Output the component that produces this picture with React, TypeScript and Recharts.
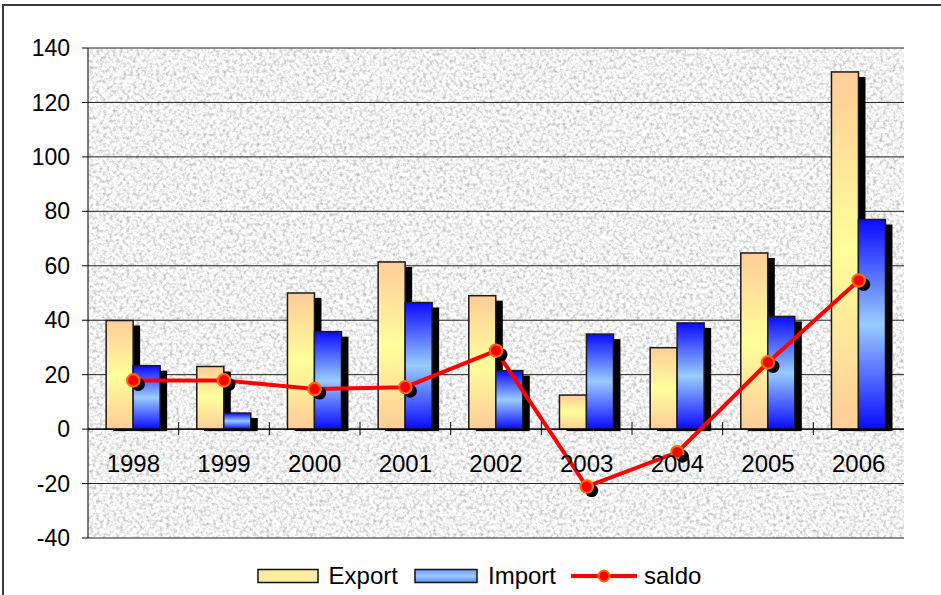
import React from 'react';
import {
  ComposedChart, Bar, Line, XAxis, YAxis, CartesianGrid, ReferenceLine, Legend,
} from 'recharts';

const years = ['1998', '1999', '2000', '2001', '2002', '2003', '2004', '2005', '2006'];
const exportVals = [39.9, 23, 50, 61.4, 49, 12.5, 29.9, 64.7, 131.2];
const importVals = [23.3, 5.9, 35.8, 46.5, 21.5, 34.9, 39, 41.4, 77];
const saldoVals = [17.9, 17.9, 14.7, 15.4, 28.8, -21.1, -8.5, 24.5, 54.6];
const yTicks = [-40, -20, 0, 20, 40, 60, 80, 100, 120, 140];

const data = years.map((y, i) => ({
  year: y,
  Export: exportVals[i],
  Import: importVals[i],
  saldo: saldoVals[i],
}));

const W = 941;
const H = 595;
const MARGIN = { top: 48, right: 37, left: 0, bottom: 4 };
const Y_AXIS_W = 88;
const X_AXIS_H = 23;
const LEGEND_H = 30;
const Y_MIN = -40;
const Y_MAX = 140;
const PLOT_W = W - MARGIN.left - MARGIN.right - Y_AXIS_W;
const PLOT_H = H - MARGIN.top - MARGIN.bottom - LEGEND_H - X_AXIS_H;
const ZERO_Y = MARGIN.top + (PLOT_H * Y_MAX) / (Y_MAX - Y_MIN);
const BAND = PLOT_W / years.length;

const makeShape = (grad: string) => (p: any) => {
  const { x, y, width, height } = p;
  if (width == null || height == null) return null;
  return (
    <g>
      <rect x={x + 7} y={y + 5} width={width} height={Math.max(0, height - 3)} fill="#000" />
      <rect x={x} y={y} width={width} height={height} fill={`url(#${grad})`} stroke="#1a1a1a" strokeWidth={1.5} />
    </g>
  );
};

const ExportShape = makeShape('gradExport');
const ImportShape = makeShape('gradImport');

const SaldoDot = (p: any) => {
  const { cx, cy, index } = p;
  if (cx == null || cy == null) return null;
  return (
    <g key={`dot-${index}`}>
      <circle cx={cx + 5} cy={cy + 4} r={6.5} fill="#000" />
      <circle cx={cx} cy={cy} r={6.2} fill="#FF0000" stroke="#FF6A00" strokeWidth={2.2} />
    </g>
  );
};

const XTick = (p: any) => {
  const { x, payload, index } = p;
  return (
    <g>
      {index > 0 && (
        <line x1={x - BAND / 2} x2={x - BAND / 2} y1={ZERO_Y - 7} y2={ZERO_Y + 6} stroke="#000" strokeWidth={1} />
      )}
      <text x={x} y={ZERO_Y + 43} textAnchor="middle" fontSize={24} fill="#000">
        {payload.value}
      </text>
    </g>
  );
};

const LegendContent = () => (
  <div style={{ height: LEGEND_H, display: 'flex', alignItems: 'center', justifyContent: 'center', marginLeft: 54, fontSize: 24, color: '#000', lineHeight: '30px' }}>
    <svg width={62} height={16} style={{ marginRight: 10 }}>
      <rect x={1} y={1.5} width={60} height={13} fill="#FFEC9C" stroke="#111" strokeWidth={1.5} />
    </svg>
    <span style={{ marginRight: 16 }}>Export</span>
    <svg width={64} height={16} style={{ marginRight: 10 }}>
      <defs>
        <linearGradient id="legImp" x1="0" y1="0" x2="0" y2="1">
          <stop offset="0%" stopColor="#6F9BFF" />
          <stop offset="50%" stopColor="#9CC8FF" />
          <stop offset="100%" stopColor="#5F8BFF" />
        </linearGradient>
      </defs>
      <rect x={1} y={1.5} width={62} height={13} fill="url(#legImp)" stroke="#111" strokeWidth={1.5} />
    </svg>
    <span style={{ marginRight: 15 }}>Import</span>
    <svg width={66} height={16} style={{ marginRight: 7 }}>
      <line x1={0} x2={66} y1={8} y2={8} stroke="#FF0000" strokeWidth={4} />
      <circle cx={33} cy={8} r={5.5} fill="#FF0000" stroke="#FF6A00" strokeWidth={2} />
    </svg>
    <span>saldo</span>
  </div>
);

export default function App() {
  return (
    <div style={{ position: 'absolute', left: 0, top: 0, width: W, height: H, overflow: 'hidden', background: '#fff', fontFamily: 'Arial, "Liberation Sans", sans-serif' }}>
      <div style={{ position: 'absolute', left: 2, top: 4, width: 1000, height: 1000, border: '2px solid #3a3a3a', boxSizing: 'border-box' }} />
      <div style={{ position: 'absolute', left: 0, top: 0 }}>
        <ComposedChart width={W} height={H} data={data} margin={MARGIN} barCategoryGap="20%" barGap={0}>
          <defs>
            <linearGradient id="gradExport" x1="0" y1="0" x2="0" y2="1">
              <stop offset="0%" stopColor="#FFCC99" />
              <stop offset="50%" stopColor="#FFFF99" />
              <stop offset="100%" stopColor="#FFCC99" />
            </linearGradient>
            <linearGradient id="gradImport" x1="0" y1="0" x2="0" y2="1">
              <stop offset="0%" stopColor="#0A0AFF" />
              <stop offset="50%" stopColor="#99CCFF" />
              <stop offset="100%" stopColor="#0A0AFF" />
            </linearGradient>
            <filter id="noiseF" x="0" y="0" width="100%" height="100%" colorInterpolationFilters="sRGB">
              <feTurbulence type="fractalNoise" baseFrequency="0.3" numOctaves={3} seed={7} result="n" />
              <feColorMatrix type="matrix" values="-0.6 0 0 0 1.25  -0.6 0 0 0 1.25  -0.6 0 0 0 1.25  0 0 0 0 1" />
            </filter>
            <pattern id="granite" patternUnits="userSpaceOnUse" x={0} y={0} width={W} height={H}>
              <rect x={0} y={0} width={W} height={H} filter="url(#noiseF)" />
            </pattern>
          </defs>
          <CartesianGrid vertical={false} stroke="#222" strokeWidth={1} fill="url(#granite)" fillOpacity={1} />
          <XAxis dataKey="year" height={X_AXIS_H} axisLine={false} tickLine={false} tick={<XTick />} interval={0} />
          <YAxis
            width={Y_AXIS_W}
            domain={[Y_MIN, Y_MAX]}
            ticks={yTicks}
            interval={0}
            tick={{ fontSize: 23, fill: '#000' }}
            tickSize={6}
            tickMargin={12}
            axisLine={{ stroke: '#000', strokeWidth: 1 }}
            tickLine={{ stroke: '#000', strokeWidth: 1 }}
          />
          <YAxis yAxisId="r" orientation="right" width={0} domain={[Y_MIN, Y_MAX]} tick={false} tickLine={false} axisLine={{ stroke: '#555', strokeWidth: 1.5 }} />
          <ReferenceLine y={0} stroke="#000" strokeWidth={1.2} />
          <Bar dataKey="Export" shape={ExportShape} isAnimationActive={false} />
          <Bar dataKey="Import" shape={ImportShape} isAnimationActive={false} />
          <Line dataKey="saldo" type="linear" stroke="#FF0000" strokeWidth={4} dot={<SaldoDot />} activeDot={false} isAnimationActive={false} />
          <Legend verticalAlign="bottom" height={LEGEND_H} content={<LegendContent />} />
        </ComposedChart>
      </div>
    </div>
  );
}
